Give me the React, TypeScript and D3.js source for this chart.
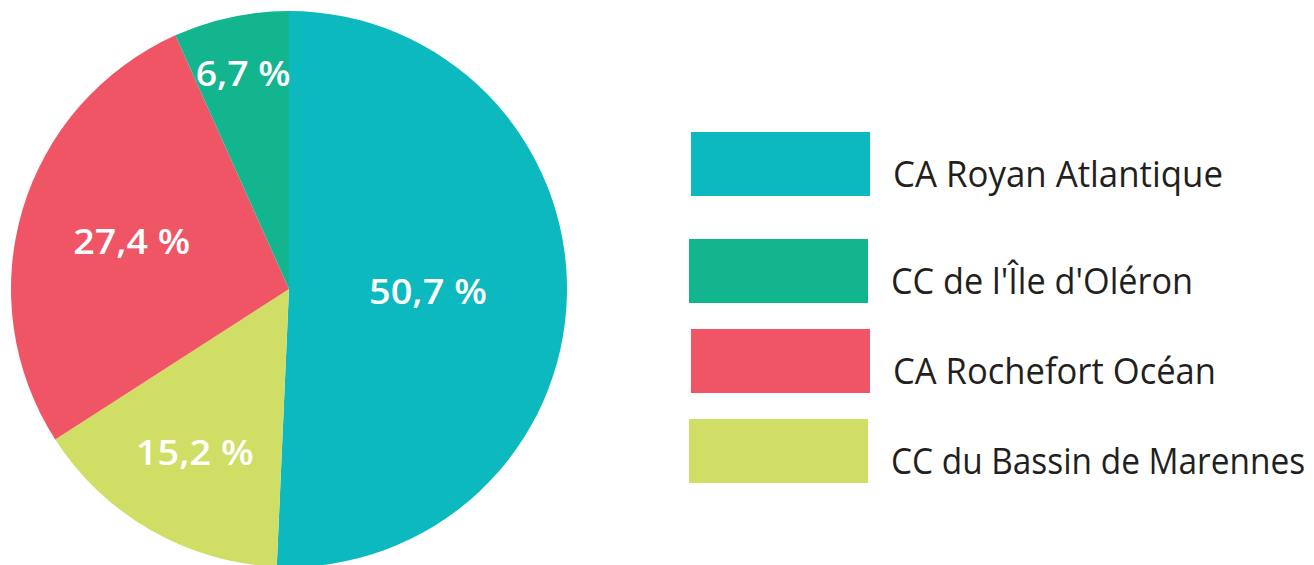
import React, { useLayoutEffect, useRef, useState } from "react";
import * as d3 from "d3";

const categories = ["CA Royan Atlantique", "CC du Bassin de Marennes", "CA Rochefort Océan", "CC de l'Île d'Oléron"];
const values = [50.7, 15.2, 27.4, 6.7];
const labels = ["50,7 %", "15,2 %", "27,4 %", "6,7 %"];
const colors = ["#0BB9BE", "#D0DE66", "#EF5565", "#13B58F"];
const labelRadiusFactor = [0.5, 0.68, 0.59, 0.79];
const labelWidths = [118, 118, 117, 95];

const legendOrder = ["CA Royan Atlantique", "CC de l'Île d'Oléron", "CA Rochefort Océan", "CC du Bassin de Marennes"];
const legendWidths = [330, 302, 323, 414];
const legendTops = [132, 239, 329, 419];
const legendLefts = [691, 689, 691, 689];

const W = 1314;
const H = 565;

export default function App() {
  const cx = 289;
  const cy = 289;
  const r = 278;
  const pie = d3.pie<number>().sort(null).value((d) => d);
  const arcs = pie(values);
  const arcGen = d3.arc<d3.PieArcDatum<number>>().innerRadius(0).outerRadius(r);

  const legendRefs = useRef<(SVGTextElement | null)[]>([]);
  const pieRefs = useRef<(SVGTextElement | null)[]>([]);
  const [legendScale, setLegendScale] = useState<number[]>(legendOrder.map(() => 0.85));
  const [pieScale, setPieScale] = useState<number[]>(labels.map(() => 1));

  useLayoutEffect(() => {
    setLegendScale(
      legendRefs.current.map((el, i) => {
        const w = el ? el.getComputedTextLength() : 0;
        return w > 0 ? legendWidths[i] / w : 0.85;
      })
    );
    setPieScale(
      pieRefs.current.map((el, i) => {
        const w = el ? el.getComputedTextLength() : 0;
        return w > 0 ? labelWidths[i] / w : 1;
      })
    );
  }, []);

  return (
    <svg width={W} height={H} style={{ position: "absolute", left: 0, top: 0, background: "#fff" }}>
      <g transform={`translate(${cx},${cy})`}>
        {arcs.map((a, i) => (
          <path key={i} d={arcGen(a) || ""} fill={colors[i]} />
        ))}
        {arcs.map((a, i) => {
          const lr = r * labelRadiusFactor[i];
          const c = d3.arc<d3.PieArcDatum<number>>().innerRadius(lr).outerRadius(lr).centroid(a);
          return (
            <g key={i} transform={`translate(${c[0]},${c[1]}) scale(${pieScale[i]},1)`}>
              <text
                ref={(el) => {
                  pieRefs.current[i] = el;
                }}
                dy="0.36em"
                textAnchor="middle"
                fill="#fff"
                fontFamily="'Open Sans', sans-serif"
                fontWeight={600}
                fontSize={34}
              >
                {labels[i]}
              </text>
            </g>
          );
        })}
      </g>
      {legendOrder.map((name, i) => {
        const idx = categories.indexOf(name);
        const y = legendTops[i];
        const x = legendLefts[i];
        return (
          <g key={name}>
            <rect x={x} y={y} width={179} height={64} fill={colors[idx]} />
            <g transform={`translate(${x + 202},${y + 55}) scale(${legendScale[i]},1)`}>
              <text
                ref={(el) => {
                  legendRefs.current[i] = el;
                }}
                fill="#231F20"
                fontFamily="'Open Sans', sans-serif"
                fontSize={36}
              >
                {name}
              </text>
            </g>
          </g>
        );
      })}
    </svg>
  );
}
